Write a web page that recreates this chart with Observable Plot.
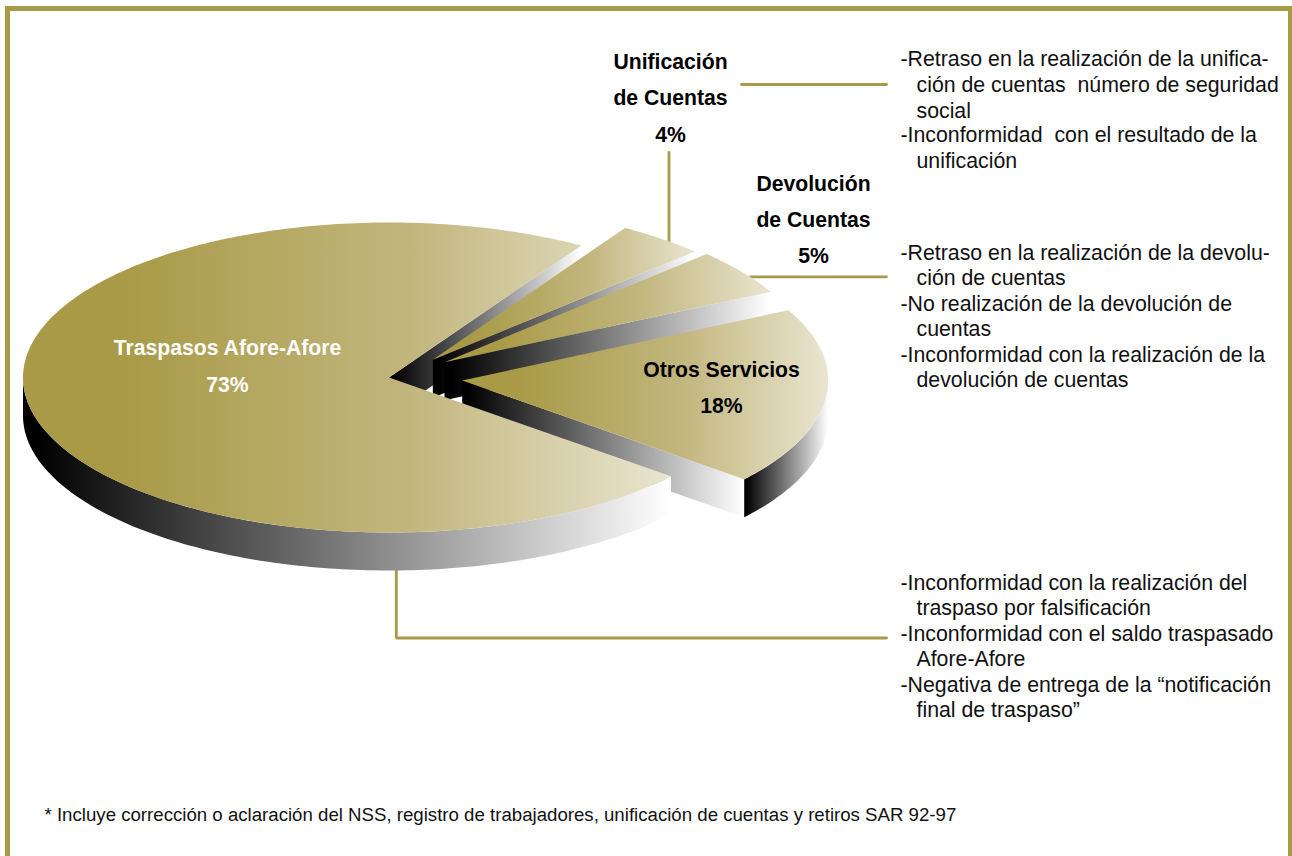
<!DOCTYPE html>
<html>
<head>
<meta charset="utf-8">
<script src="https://cdn.jsdelivr.net/npm/d3@7"></script>
<script src="https://cdn.jsdelivr.net/npm/@observablehq/plot@0.6"></script>
<style>
html,body{margin:0;padding:0;background:#fff;overflow:hidden}
svg{display:block}
</style>
</head>
<body>
<div id="chart"></div>
<script>
// Data: slice sweeps in percent, counter-clockwise from the first slice
const categories = ["Otros Servicios", "Devolución de Cuentas", "Unificación de Cuentas", "Traspasos Afore-Afore"];
const shares = [18.5, 4.8, 3.9, 72.8];

// Annotation text
const sliceLabels = [
  ["Unificación", "de Cuentas", "4%"],
  ["Devolución", "de Cuentas", "5%"],
  ["Otros Servicios", "18%"],
  ["Traspasos Afore-Afore", "73%"]
];
const notesUnificacion = ["-Retraso en la realización de la unifica-", "  ción de cuentas  número de seguridad", "  social", "-Inconformidad  con el resultado de la", "  unificación"];
const notesDevolucion = ["-Retraso en la realización de la devolu-", "  ción de cuentas", "-No realización de la devolución de", "  cuentas", "-Inconformidad con la realización de la", "  devolución de cuentas"];
const notesTraspasos = ["-Inconformidad con la realización del", "  traspaso por falsificación", "-Inconformidad con el saldo traspasado", "  Afore-Afore", "-Negativa de entrega de la “notificación", "  final de traspaso”"];
const footnote = "* Incluye corrección o aclaración del NSS, registro de trabajadores, unificación de cuentas y retiros SAR 92-97";

// Layout of the tilted, exploded pie
const rx = 366, ry = 155, depth = 38, startAngle = -39.6;
const apexes = [[461.7, 380], [444, 361.7], [432.3, 359.3], [388.5, 377]];
const GOLD = "#a89a46";
const FONT = "Liberation Sans";

const rad = d => d * Math.PI / 180;
let cum = startAngle;
const slices = shares.map((s, i) => {
  const a0 = cum, a1 = cum + s * 3.6; cum = a1;
  return {name: categories[i], a0, a1, cx: apexes[i][0], cy: apexes[i][1]};
});
const pt = (sl, a, dy = 0) => ({x: sl.cx + rx * Math.cos(rad(a)), y: sl.cy - ry * Math.sin(rad(a)) + dy});
const arc = (sl, a0, a1, dy = 0) => {
  const n = Math.max(2, Math.ceil(Math.abs(a1 - a0)));
  return d3.range(n + 1).map(i => pt(sl, a0 + (a1 - a0) * i / n, dy));
};
const topPoly = sl => [{x: sl.cx, y: sl.cy}, ...arc(sl, sl.a0, sl.a1)];
const cutFace = (sl, a) => {
  const e = pt(sl, a), e2 = pt(sl, a, depth);
  return [{x: sl.cx, y: sl.cy}, e, e2, {x: sl.cx, y: sl.cy + depth}];
};
const outerSide = (sl, a0, a1) => [...arc(sl, a0, a1), ...arc(sl, a1, a0, depth)];

const poly = (data, fill) => Plot.line(data, {x: "x", y: "y", fill, stroke: "none"});

const defs = () => {
  const svgDefs = d3.create("svg:defs");
  const tg = svgDefs.append("linearGradient").attr("id", "gTop");
  [[0, GOLD], [0.15, GOLD], [0.6, "#c2b67e"], [1, "#e9e5d0"]].forEach(([o, c]) => tg.append("stop").attr("offset", o).attr("stop-color", c));
  const sg = svgDefs.append("linearGradient").attr("id", "gSide");
  [[0, "#000"], [0.02, "#000"], [1, "#fff"]].forEach(([o, c]) => sg.append("stop").attr("offset", o).attr("stop-color", c));
  return svgDefs.node();
};

const [otros, devol, unif, trasp] = slices;

const textRows = (lines, x, ys, opts) => Plot.text(lines.map((t, i) => ({t, x, y: ys[i]})), {
  x: "x", y: "y", text: "t", fontFamily: FONT, ...opts
});
const notes = (lines, ys) => Plot.text(
  lines.map((t, i) => ({t: t.trim(), x: t.startsWith(" ") ? 916 : 900, y: ys[i]})),
  {x: "x", y: "y", text: "t", fontFamily: FONT, textAnchor: "start", fontSize: 21.3, fill: "#111"}
);
const bold = (lines, x, ys, fill = "#000") => textRows(lines, x, ys, {fontWeight: "bold", fontSize: 21.2, fill});

const leader = (pts) => Plot.line(pts, {x: d => d[0], y: d => d[1], stroke: GOLD, strokeWidth: 2.8, curve: "linear", strokeLinejoin: "miter"});

const frameBands = [[5, 10, 6, 856], [5, 1292, 6, 11], [1288, 1292, 6, 856]];

const chart = Plot.plot({
  width: 1292, height: 856,
  margin: 0,
  x: {domain: [0, 1292], range: [0, 1292], axis: null},
  y: {domain: [0, 856], range: [0, 856], axis: null},
  style: {background: "#fff"},
  marks: [
    defs,
    Plot.rect(frameBands, {x1: d => d[0], x2: d => d[1], y1: d => d[2], y2: d => d[3], fill: GOLD}),
    leader([[741, 84], [886, 84]]),
    leader([[668.5, 152], [668.5, 260]]),
    leader([[750, 276.3], [886, 276.3]]),
    leader([[395.8, 560], [395.8, 637.5], [886, 637.5]]),
    poly(cutFace(trasp, trasp.a0), "url(#gSide)"),
    poly(cutFace(unif, unif.a0), "url(#gSide)"),
    poly(topPoly(unif), "url(#gTop)"),
    poly(cutFace(devol, devol.a0), "url(#gSide)"),
    poly(topPoly(devol), "url(#gTop)"),
    poly(cutFace(otros, otros.a0), "url(#gSide)"),
    poly(outerSide(otros, otros.a0, 0), "url(#gSide)"),
    poly(topPoly(otros), "url(#gTop)"),
    poly(outerSide(trasp, 180, trasp.a1), "url(#gSide)"),
    poly(topPoly(trasp), "url(#gTop)"),
    bold(sliceLabels[0], 670, [62, 98, 135]),
    bold(sliceLabels[1], 813, [184, 220, 256]),
    bold(sliceLabels[2], 721, [370, 406]),
    bold(sliceLabels[3], 227, [348, 385], "#fff"),
    notes(notesUnificacion, [59, 85, 111, 135, 161]),
    notes(notesDevolucion, [253, 278, 304, 329, 355, 380]),
    notes(notesTraspasos, [583, 608, 634, 659, 685, 710]),
    Plot.text([footnote], {x: 44, y: 815, text: d => d, textAnchor: "start", fontFamily: FONT, fontSize: 18.65, fill: "#111"})
  ]
});
document.getElementById("chart").appendChild(chart);
</script>
</body>
</html>
